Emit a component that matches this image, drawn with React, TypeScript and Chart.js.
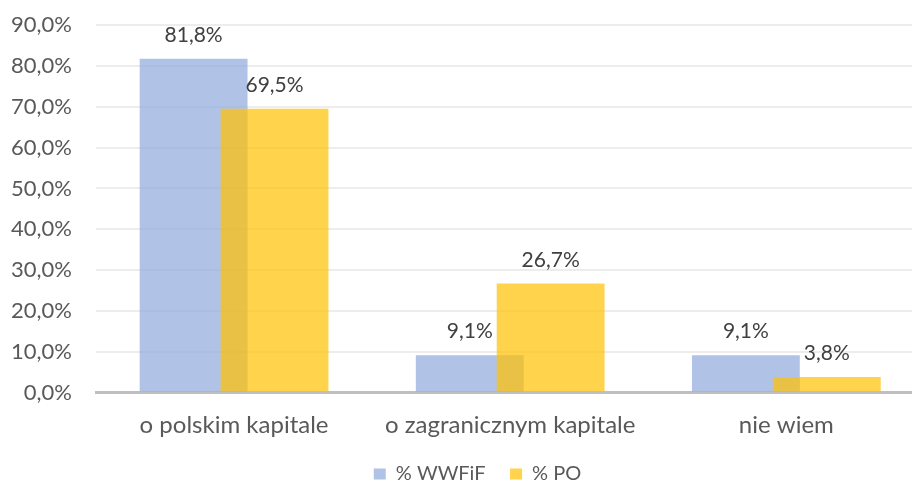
import React, { useEffect, useRef } from "react";
import { Chart, registerables } from "chart.js";

Chart.register(...registerables);

const categories = ["o polskim kapitale", "o zagranicznym kapitale", "nie wiem"];
const seriesNames = ["% WWFiF", "% PO"];
const wwfifValues = [81.8, 9.1, 9.1];
const poValues = [69.5, 26.7, 3.8];
const yMin = 0;
const yMax = 90;
const yStep = 10;

const FONT = "Lato";
const fmt = (v: number) => v.toFixed(1).replace(".", ",") + "%";

const CANVAS_W = 956;
const CANVAS_H = 506;
const CANVAS_SHIFT_Y = -12;

// Draw the second series (PO) on top of the first, as in the reference.
const topOrderPlugin = {
  id: "poOnTop",
  beforeDatasetDraw(chart: any, args: any) {
    if (args.index === 1) return false;
    return true;
  },
  afterDatasetsDraw(chart: any) {
    const meta = chart.getDatasetMeta(1);
    if (meta && !meta.hidden) meta.controller.draw();
  },
};

// Centre the legend on the whole (uncropped) chart rather than on the plot.
const legendShiftPlugin = {
  id: "legendShift",
  afterLayout(chart: any) {
    const lg = chart.legend;
    if (lg) {
      lg.left += 15.3;
      lg.right += 15.3;
    }
  },
};

const valueLabelPlugin = {
  id: "valueLabels",
  afterDatasetsDraw(chart: any) {
    const ctx = chart.ctx;
    ctx.save();
    ctx.font = `21px ${FONT}`;
    ctx.fillStyle = "#404040";
    ctx.textAlign = "center";
    ctx.textBaseline = "alphabetic";
    chart.data.datasets.forEach((ds: any, di: number) => {
      const meta = chart.getDatasetMeta(di);
      meta.data.forEach((bar: any, i: number) => {
        ctx.fillText(fmt(ds.data[i]), bar.x, bar.y - 17);
      });
    });
    ctx.restore();
  },
};

export default function App() {
  const ref = useRef<HTMLCanvasElement | null>(null);
  useEffect(() => {
    if (!ref.current) return;
    const chart = new Chart(ref.current, {
      type: "bar",
      data: {
        labels: categories,
        datasets: [
          {
            label: seriesNames[0],
            data: wwfifValues,
            backgroundColor: "rgba(143,170,220,0.7)",
            borderWidth: 0,
            categoryPercentage: 0.586,
            barPercentage: 1.333,
          },
          {
            label: seriesNames[1],
            data: poValues,
            backgroundColor: "rgba(255,192,0,0.7)",
            borderWidth: 0,
            categoryPercentage: 0.586,
            barPercentage: 1.333,
          },
        ],
      },
      options: {
        responsive: false,
        animation: false,
        devicePixelRatio: 1,
        layout: { padding: { left: 0, right: CANVAS_W - 924.4, top: 0, bottom: 0 } },
        plugins: {
          tooltip: { enabled: false },
          legend: {
            position: "bottom",
            labels: {
              font: { family: FONT, size: 20 },
              color: "#595959",
              boxWidth: 12,
              boxHeight: 11,
              padding: 24.5,
            },
          },
        },
        scales: {
          x: {
            z: 1,
            afterFit: (s: any) => {
              s.height = 47;
            },
            grid: { display: false, drawTicks: false },
            border: { display: true, color: "#BFBFBF", width: 3 },
            ticks: {
              font: { family: FONT, size: 24 },
              color: "#595959",
              padding: 18,
            },
          },
          y: {
            min: yMin,
            max: yMax,
            afterFit: (s: any) => {
              s.width = 96;
            },
            grid: { color: "#EDEDED", lineWidth: 2, drawTicks: false },
            border: { display: false },
            ticks: {
              stepSize: yStep,
              font: { family: FONT, size: 22 },
              color: "#595959",
              padding: 24,
              callback: (v: any) => fmt(Number(v)),
            },
          },
        },
      },
      plugins: [topOrderPlugin, valueLabelPlugin, legendShiftPlugin],
    });
    return () => chart.destroy();
  }, []);

  return (
    <div
      style={{
        position: "fixed",
        left: 0,
        top: 0,
        width: 912,
        height: 484,
        overflow: "hidden",
        background: "#fff",
      }}
    >
      <canvas
        ref={ref}
        width={CANVAS_W}
        height={CANVAS_H}
        style={{
          display: "block",
          position: "absolute",
          left: 0,
          top: CANVAS_SHIFT_Y,
          width: CANVAS_W,
          height: CANVAS_H,
        }}
      />
    </div>
  );
}
